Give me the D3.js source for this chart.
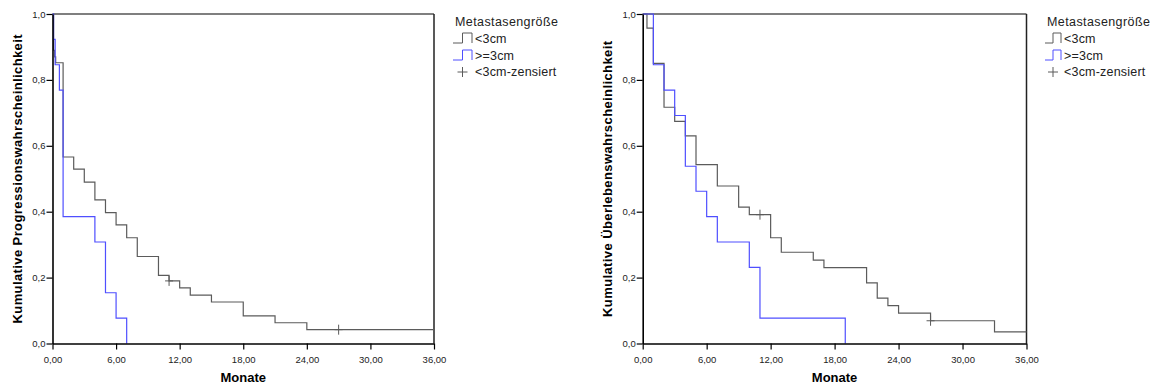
<!DOCTYPE html>
<html>
<head>
<meta charset="utf-8">
<script src="https://cdn.jsdelivr.net/npm/d3@7"></script>
<style>
  body { margin: 0; background: #fff; }
  svg text { font-family: "Liberation Sans", Arial, sans-serif; }
</style>
</head>
<body>
<div id="chart"></div>
<script>
// ---- data (months, cumulative probability) ----
const xTicks = [0, 6, 12, 18, 24, 30, 36];
const yTicks = [0, 0.2, 0.4, 0.6, 0.8, 1.0];
const legendTitle = "Metastasengröße";
const legendLabels = ["<3cm", ">=3cm", "<3cm-zensiert"];

// chart 1: Progression
const progSmallTime = [0, 0.1, 0.2, 0.3, 1, 2, 3, 4, 5, 6, 7, 8, 10, 11, 12, 13, 15, 18, 21, 24, 36];
const progSmallSurv = [1, 0.89, 0.87, 0.852, 0.566, 0.529, 0.49, 0.436, 0.397, 0.36, 0.321, 0.264, 0.207, 0.19, 0.169, 0.147, 0.126, 0.084, 0.063, 0.042, 0.042];
const progLargeTime = [0, 0.1, 0.25, 0.65, 1, 4, 5, 6, 7];
const progLargeSurv = [1, 0.923, 0.846, 0.769, 0.385, 0.308, 0.154, 0.077, 0];
const progCensored = [11, 27];

// chart 2: Ueberleben
const survSmallTime = [0, 0.4, 1, 2, 3, 4, 5, 7, 9, 10, 12, 13, 16, 17, 21, 22, 23, 24, 27, 33, 36];
const survSmallSurv = [1, 0.957, 0.85, 0.717, 0.674, 0.63, 0.543, 0.478, 0.414, 0.391, 0.321, 0.277, 0.253, 0.23, 0.184, 0.138, 0.115, 0.092, 0.069, 0.035, 0.035];
const survLargeTime = [0, 1, 2, 3, 4, 5, 6, 7, 10, 11, 19];
const survLargeSurv = [1, 0.846, 0.769, 0.692, 0.538, 0.462, 0.385, 0.308, 0.231, 0.077, 0];
const survCensored = [11, 27];

const colSmall = "#5b5b5b";
const colLarge = "#4f4fff";

const svg = d3.select("#chart")
  .append("svg")
  .attr("width", 1151)
  .attr("height", 385);

const charts = [
  { x0: 52.5, x1: 434, yTitle: "Kumulative Progressionswahrscheinlichkeit", titleX: 17.5,
    small: [progSmallTime, progSmallSurv], large: [progLargeTime, progLargeSurv], cens: progCensored,
    legX: 453, iconW: 19 },
  { x0: 642.7, x1: 1026.5, yTitle: "Kumulative Überlebenswahrscheinlichkeit", titleX: 607,
    small: [survSmallTime, survSmallSurv], large: [survLargeTime, survLargeSurv], cens: survCensored,
    legX: 1045, iconW: 16 }
];

const plotTop = 14, plotBottom = 343.5;

function stepValue(times, surv, t) {
  const i = d3.bisectRight(times, t) - 1;
  return surv[Math.max(0, i)];
}

charts.forEach(c => {
  const x = d3.scaleLinear().domain([0, 36]).range([c.x0, c.x1]);
  const y = d3.scaleLinear().domain([0, 1]).range([plotBottom, plotTop]);

  const g = svg.append("g");

  // frame (top + right)
  g.append("line")
    .attr("x1", c.x0).attr("x2", c.x1)
    .attr("y1", plotTop).attr("y2", plotTop)
    .attr("stroke", "#555").attr("stroke-width", 1.3);
  g.append("line")
    .attr("x1", c.x1).attr("x2", c.x1)
    .attr("y1", plotTop).attr("y2", plotBottom)
    .attr("stroke", "#222").attr("stroke-width", 1.5);

  // curves
  const line = d3.line()
    .x(d => x(d[0]))
    .y(d => y(d[1]))
    .curve(d3.curveStepAfter);

  [[c.small, colSmall], [c.large, colLarge]].forEach(([s, col]) => {
    const pts = s[0].map((t, i) => [t, s[1][i]]);
    g.append("path")
      .attr("d", line(pts))
      .attr("fill", "none")
      .attr("stroke", col)
      .attr("stroke-width", 1.2);
  });

  // censored marks
  g.selectAll(".cens")
    .data(c.cens)
    .enter()
    .append("path")
    .attr("class", "cens")
    .attr("d", t => {
      const cx = x(t), cy = y(stepValue(c.small[0], c.small[1], t));
      return `M${cx - 4},${cy}H${cx + 4}M${cx},${cy - 5}V${cy + 5}`;
    })
    .attr("stroke", colSmall)
    .attr("stroke-width", 1);

  // axes
  const ax = g.append("g")
    .attr("transform", "translate(0," + plotBottom + ")")
    .call(d3.axisBottom(x).tickValues(xTicks).tickSize(6).tickSizeOuter(0)
      .tickFormat(d => d3.format(".2f")(d).replace(".", ",")));
  const ay = g.append("g")
    .attr("transform", "translate(" + c.x0 + ",0)")
    .call(d3.axisLeft(y).tickValues(yTicks).tickSize(6).tickSizeOuter(0)
      .tickFormat(d => d3.format(".1f")(d).replace(".", ",")));

  [ax, ay].forEach(a => {
    a.select(".domain").attr("stroke", "#000").attr("stroke-width", 1.6);
    a.selectAll(".tick line").attr("stroke", "#000").attr("stroke-width", 1.2);
    a.selectAll(".tick text")
      .attr("fill", "#222")
      .style("font-size", "9.5px")
      .style("font-family", "Liberation Sans, Arial, sans-serif");
  });
  ax.selectAll(".tick text").attr("dy", "1.1em");
  ay.selectAll(".tick text").attr("x", -7);

  // axis titles
  g.append("text")
    .attr("x", (c.x0 + c.x1) / 2)
    .attr("y", 382)
    .attr("text-anchor", "middle")
    .attr("font-size", "13px")
    .attr("font-weight", "bold")
    .text("Monate");

  g.append("text")
    .attr("transform", "translate(" + c.titleX + "," + (plotTop + plotBottom) / 2 + ") rotate(-90)")
    .attr("text-anchor", "middle")
    .attr("dy", "0.35em")
    .attr("font-size", "13px")
    .attr("letter-spacing", "0.4px")
    .attr("font-weight", "bold")
    .text(c.yTitle);

  // legend
  const lg = g.append("g");
  lg.append("text")
    .attr("x", c.legX + 2)
    .attr("y", 26)
    .attr("font-size", "12.5px")
    .attr("letter-spacing", "0.4px")
    .attr("fill", "#222")
    .text(legendTitle);

  [colSmall, colLarge].forEach((col, i) => {
    const by = 43 + i * 17;
    const w = c.iconW;
    lg.append("path")
      .attr("d", `M${c.legX},${by}H${c.legX + w / 2}V${by - 10}H${c.legX + w}V${by}`)
      .attr("fill", "none")
      .attr("stroke", col)
      .attr("stroke-width", 1);
  });

  const cx = c.legX + c.iconW / 2, cy = 72;
  lg.append("path")
    .attr("d", `M${cx - 5},${cy}H${cx + 5}M${cx},${cy - 5}V${cy + 5}`)
    .attr("stroke", colSmall)
    .attr("stroke-width", 1);

  lg.selectAll(".leglabel")
    .data(legendLabels)
    .enter()
    .append("text")
    .attr("class", "leglabel")
    .attr("x", c.legX + c.iconW + 3)
    .attr("y", (d, i) => 43 + i * 16.5)
    .attr("font-size", "12.5px")
    .attr("letter-spacing", "0.2px")
    .attr("fill", "#222")
    .text(d => d);
});
</script>
</body>
</html>
